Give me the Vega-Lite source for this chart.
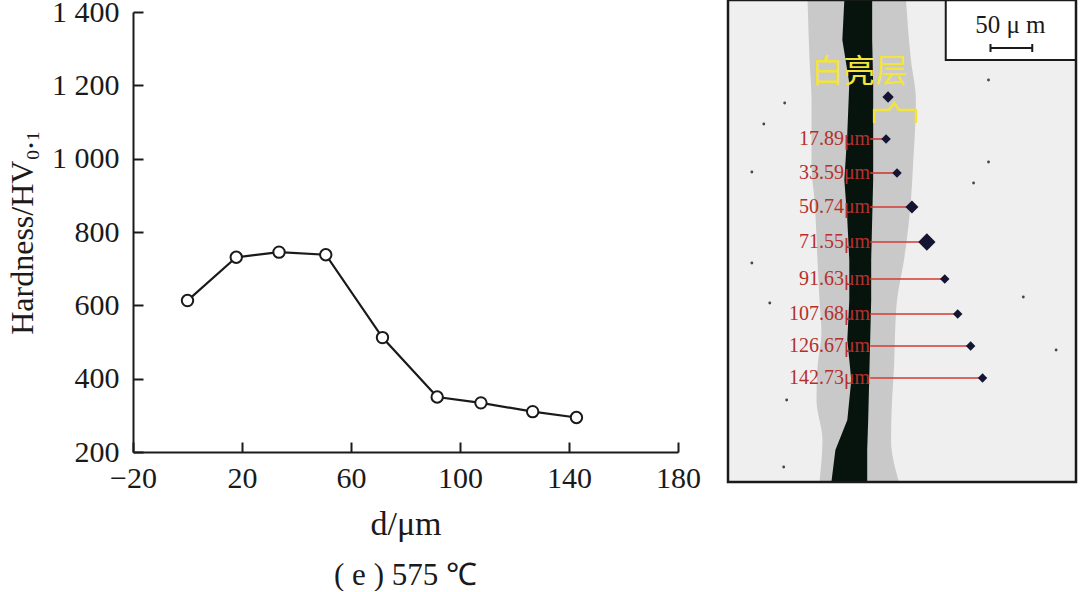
{
  "$schema": "https://vega.github.io/schema/vega-lite/v6.json",
  "padding": {"left": 6, "top": -3, "right": 0, "bottom": 0},
  "background": "white",
  "config": {
    "view": {"stroke": null},
    "font": "Liberation Serif",
    "axis": {
      "grid": false,
      "domainColor": "#1a1a1a",
      "domainWidth": 2,
      "tickColor": "#1a1a1a",
      "tickWidth": 2,
      "tickSize": -10,
      "labelFont": "Liberation Serif",
      "labelFontSize": 30,
      "labelColor": "#1a1a1a",
      "labelOverlap": false,
      "labelFlush": false,
      "labelBound": false,
      "titleFont": "Liberation Serif",
      "titleFontSize": 32,
      "titleFontWeight": "normal",
      "titleColor": "#1a1a1a"
    }
  },
  "datasets": {
    "hardness": [
      {"d": 0, "hv": 613},
      {"d": 17.89, "hv": 731},
      {"d": 33.59, "hv": 745},
      {"d": 50.74, "hv": 738},
      {"d": 71.55, "hv": 512},
      {"d": 91.63, "hv": 350},
      {"d": 107.68, "hv": 334},
      {"d": 126.67, "hv": 310},
      {"d": 142.73, "hv": 294}
    ],
    "band": [
      {"y": 0, "l": 80, "r": 179},
      {"y": 60, "l": 82, "r": 184},
      {"y": 100, "l": 84, "r": 189},
      {"y": 167, "l": 84, "r": 186},
      {"y": 200, "l": 87, "r": 184},
      {"y": 260, "l": 90, "r": 177},
      {"y": 300, "l": 92, "r": 170},
      {"y": 333, "l": 94, "r": 168},
      {"y": 367, "l": 90, "r": 167},
      {"y": 400, "l": 89, "r": 165},
      {"y": 440, "l": 95, "r": 164},
      {"y": 482, "l": 92, "r": 172}
    ],
    "crack": [
      {"y": 0, "l": 117, "r": 145},
      {"y": 40, "l": 115, "r": 145},
      {"y": 83, "l": 122, "r": 146},
      {"y": 133, "l": 120, "r": 146},
      {"y": 180, "l": 117, "r": 146},
      {"y": 220, "l": 120, "r": 145},
      {"y": 260, "l": 122, "r": 144},
      {"y": 300, "l": 122, "r": 144},
      {"y": 340, "l": 120, "r": 143},
      {"y": 380, "l": 124, "r": 142},
      {"y": 420, "l": 120, "r": 141},
      {"y": 450, "l": 108, "r": 140},
      {"y": 482, "l": 104, "r": 140}
    ],
    "indents": [
      {"lab": "17.89μm", "x0": 143, "xe": 159, "y": 139},
      {"lab": "33.59μm", "x0": 143, "xe": 170, "y": 173},
      {"lab": "50.74μm", "x0": 143, "xe": 185, "y": 207},
      {"lab": "71.55μm", "x0": 143, "xe": 200, "y": 242},
      {"lab": "91.63μm", "x0": 143, "xe": 218, "y": 279},
      {"lab": "107.68μm", "x0": 143, "xe": 231, "y": 314},
      {"lab": "126.67μm", "x0": 143, "xe": 244, "y": 346},
      {"lab": "142.73μm", "x0": 143, "xe": 256, "y": 378}
    ],
    "specks": [
      {"x": 57, "y": 103}, {"x": 36, "y": 124}, {"x": 24, "y": 172},
      {"x": 262, "y": 162}, {"x": 247, "y": 183}, {"x": 24, "y": 263},
      {"x": 42, "y": 303}, {"x": 59, "y": 400}, {"x": 56, "y": 467},
      {"x": 297, "y": 297}, {"x": 330, "y": 350}, {"x": 262, "y": 80},
      {"x": 161, "y": 97}
    ],
    "bracket": [
      {"i": 1, "x": 147, "y": 123},
      {"i": 2, "x": 147, "y": 110},
      {"i": 3, "x": 162, "y": 110},
      {"i": 4, "x": 167, "y": 103},
      {"i": 5, "x": 172, "y": 110},
      {"i": 6, "x": 189, "y": 110},
      {"i": 7, "x": 189, "y": 123}
    ]
  },
  "hconcat": [
    {
      "width": 545,
      "height": 440,
      "data": {"name": "hardness"},
      "title": {
        "text": "( e ) 575 ℃",
        "orient": "bottom",
        "anchor": "middle",
        "font": "Liberation Serif",
        "fontSize": 31,
        "fontWeight": "normal",
        "color": "#1a1a1a",
        "offset": 20
      },
      "encoding": {
        "x": {
          "field": "d",
          "type": "quantitative",
          "scale": {"domain": [-20, 180], "nice": false},
          "axis": {
            "values": [-20, 20, 60, 100, 140, 180],
            "title": "d/μm",
            "titleFontSize": 34,
            "labelPadding": 21,
            "titlePadding": 14
          }
        },
        "y": {
          "field": "hv",
          "type": "quantitative",
          "scale": {"domain": [200, 1400], "nice": false},
          "axis": {
            "values": [200, 400, 600, 800, 1000, 1200, 1400],
            "labelExpr": "replace(format(datum.value, ','), ',', ' ')",
            "title": "Hardness/HV₀.₁",
            "labelPadding": 24,
            "titlePadding": 12
          }
        }
      },
      "layer": [
        {"mark": {"type": "line", "color": "#1a1a1a", "strokeWidth": 2.2}},
        {
          "mark": {
            "type": "point",
            "filled": true,
            "fill": "white",
            "stroke": "#1a1a1a",
            "strokeWidth": 2,
            "size": 130,
            "opacity": 1
          }
        }
      ]
    },
    {
      "width": 348,
      "height": 470,
      "layer": [
        {
          "data": {"values": [{"x0": 0, "x1": 350, "y0": 0, "y1": 482}]},
          "mark": {"type": "rect", "fill": "#efefef"},
          "encoding": {
            "x": {"field": "x0", "type": "quantitative", "scale": {"domain": [0, 350], "nice": false}, "axis": null},
            "x2": {"field": "x1"},
            "y": {"field": "y0", "type": "quantitative", "scale": {"domain": [12, 482], "nice": false, "reverse": true}, "axis": null},
            "y2": {"field": "y1"}
          }
        },
        {
          "data": {"name": "band"},
          "mark": {"type": "area", "orient": "horizontal", "fill": "#c9c9c9", "interpolate": "monotone"},
          "encoding": {
            "y": {"field": "y", "type": "quantitative"},
            "x": {"field": "l", "type": "quantitative"},
            "x2": {"field": "r"}
          }
        },
        {
          "data": {"name": "crack"},
          "mark": {"type": "area", "orient": "horizontal", "fill": "#07140e"},
          "encoding": {
            "y": {"field": "y", "type": "quantitative"},
            "x": {"field": "l", "type": "quantitative"},
            "x2": {"field": "r"}
          }
        },
        {
          "data": {"name": "specks"},
          "mark": {"type": "point", "filled": true, "color": "#333333", "size": 8, "opacity": 0.9},
          "encoding": {
            "x": {"field": "x", "type": "quantitative"},
            "y": {"field": "y", "type": "quantitative"}
          }
        },
        {
          "data": {"name": "indents"},
          "mark": {"type": "rule", "color": "#d23a34", "strokeWidth": 1.6},
          "encoding": {
            "x": {"field": "x0", "type": "quantitative"},
            "x2": {"field": "xe"},
            "y": {"field": "y", "type": "quantitative"}
          }
        },
        {
          "data": {"name": "indents"},
          "mark": {"type": "point", "shape": "diamond", "filled": true, "color": "#141433", "opacity": 1},
          "encoding": {
            "x": {"field": "xe", "type": "quantitative"},
            "y": {"field": "y", "type": "quantitative"},
            "size": {
              "condition": [
                {"test": "datum.lab == '71.55μm'", "value": 300},
                {"test": "datum.lab == '50.74μm'", "value": 170}
              ],
              "value": 90
            }
          }
        },
        {
          "data": {"values": [{"x": 161, "y": 97}]},
          "mark": {"type": "point", "shape": "diamond", "filled": true, "color": "#141433", "size": 130, "opacity": 1},
          "encoding": {
            "x": {"field": "x", "type": "quantitative"},
            "y": {"field": "y", "type": "quantitative"}
          }
        },
        {
          "data": {"name": "indents"},
          "mark": {"type": "text", "align": "right", "baseline": "middle", "font": "Liberation Serif", "fontSize": 20, "color": "#b5302c"},
          "encoding": {
            "x": {"field": "x0", "type": "quantitative"},
            "y": {"field": "y", "type": "quantitative"},
            "text": {"field": "lab"}
          }
        },
        {
          "data": {"values": [{"x": 132, "y": 72, "t": "白亮层"}]},
          "mark": {"type": "text", "align": "center", "baseline": "middle", "font": "Noto Sans CJK SC", "fontSize": 32, "color": "#f3e43c"},
          "encoding": {
            "x": {"field": "x", "type": "quantitative"},
            "y": {"field": "y", "type": "quantitative"},
            "text": {"field": "t"}
          }
        },
        {
          "data": {"name": "bracket"},
          "mark": {"type": "line", "color": "#f3e43c", "strokeWidth": 2.5},
          "encoding": {
            "x": {"field": "x", "type": "quantitative"},
            "y": {"field": "y", "type": "quantitative"},
            "order": {"field": "i"}
          }
        },
        {
          "data": {"values": [{"x0": 219, "x1": 350, "y0": 0, "y1": 60}]},
          "mark": {"type": "rect", "fill": "white", "stroke": "#1a1a1a", "strokeWidth": 2},
          "encoding": {
            "x": {"field": "x0", "type": "quantitative"},
            "x2": {"field": "x1"},
            "y": {"field": "y0", "type": "quantitative"},
            "y2": {"field": "y1"}
          }
        },
        {
          "data": {"values": [{"x": 284, "y": 25, "t": "50 μ m"}]},
          "mark": {"type": "text", "align": "center", "baseline": "middle", "font": "Liberation Serif", "fontSize": 25, "color": "#1a1a1a"},
          "encoding": {
            "x": {"field": "x", "type": "quantitative"},
            "y": {"field": "y", "type": "quantitative"},
            "text": {"field": "t"}
          }
        },
        {
          "data": {"values": [{"x0": 264, "x1": 306, "y0": 48, "y1": 48}, {"x0": 264, "x1": 264, "y0": 44, "y1": 52}, {"x0": 306, "x1": 306, "y0": 44, "y1": 52}]},
          "mark": {"type": "rule", "color": "#1a1a1a", "strokeWidth": 2},
          "encoding": {
            "x": {"field": "x0", "type": "quantitative"},
            "x2": {"field": "x1"},
            "y": {"field": "y0", "type": "quantitative"},
            "y2": {"field": "y1"}
          }
        },
        {
          "data": {"values": [{"x0": 0, "x1": 350, "y0": 0, "y1": 482}]},
          "mark": {"type": "rect", "fill": null, "fillOpacity": 0, "stroke": "#1a1a1a", "strokeWidth": 2.5},
          "encoding": {
            "x": {"field": "x0", "type": "quantitative"},
            "x2": {"field": "x1"},
            "y": {"field": "y0", "type": "quantitative"},
            "y2": {"field": "y1"}
          }
        }
      ]
    }
  ],
  "spacing": 25
}
